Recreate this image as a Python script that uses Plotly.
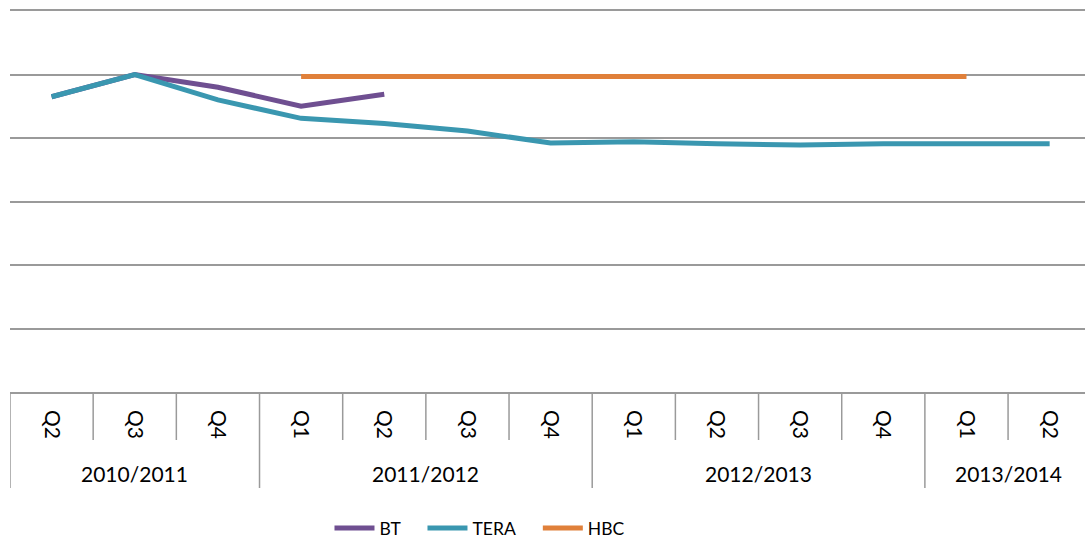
import plotly.graph_objects as go

# Quarter labels and fiscal-year groups along the x axis
quarters = ["Q2", "Q3", "Q4", "Q1", "Q2", "Q3", "Q4", "Q1", "Q2", "Q3", "Q4", "Q1", "Q2"]
years = ["2010/2011", "2011/2012", "2012/2013", "2013/2014"]
year_sizes = [3, 4, 4, 2]

# Series values (one per quarter, None where the series has no data)
bt = [4.65, 5.0, 4.80, 4.50, 4.69, None, None, None, None, None, None, None, None]
tera = [4.65, 5.0, 4.60, 4.31, 4.23, 4.11, 3.92, 3.94, 3.91, 3.89, 3.91, 3.91, 3.91]
hbc = [None, None, None, 4.97, 4.97, 4.97, 4.97, 4.97, 4.97, 4.97, 4.97, 4.97, None]

x = list(range(len(quarters)))
FONT = "Lato"
GRID = "#9a9a9a"

series = [("BT", bt, "#6f4f91"), ("TERA", tera, "#3a97b0"), ("HBC", hbc, "#e0803a")]
legend_ids = ["legend", "legend2", "legend3"]
legend_x = [0.2972, 0.3837, 0.491]

fig = go.Figure()
for (name, vals, color), lg in zip(series, legend_ids):
    fig.add_trace(go.Scatter(
        x=x, y=vals, name=name, mode="lines",
        line=dict(color=color, width=5),
        connectgaps=False, legend=lg,
    ))

# Category divider lines under the axis
shapes = []
bounds = [-0.5]
for n in year_sizes:
    bounds.append(bounds[-1] + n)
year_bounds = set(bounds[:-1])
for i in range(len(quarters)):
    b = i - 0.5
    y1 = -0.252 if b in year_bounds else -0.126
    shapes.append(dict(type="line", xref="x", yref="paper", x0=b, x1=b, y0=0, y1=y1,
                       line=dict(color=GRID, width=1.5)))

# Fiscal-year labels centred under their quarters
annotations = []
start = 0
for label, n in zip(years, year_sizes):
    centre = start + (n - 1) / 2
    annotations.append(dict(x=centre, y=-0.213, xref="x", yref="paper", text=label,
                            showarrow=False, font=dict(family=FONT, size=21, color="#000"),
                            xanchor="center", yanchor="middle"))
    start += n

legend_style = dict(orientation="h", y=-0.357, xanchor="left", yanchor="middle",
                    font=dict(family=FONT, size=17.5, color="#000"), itemwidth=40,
                    bgcolor="rgba(0,0,0,0)")

fig.update_layout(
    width=1085, height=538,
    margin=dict(l=10, r=0, t=11, b=146, autoexpand=False),
    paper_bgcolor="white", plot_bgcolor="white",
    shapes=shapes, annotations=annotations,
    showlegend=True,
    legend=dict(x=legend_x[0], **legend_style),
    legend2=dict(x=legend_x[1], **legend_style),
    legend3=dict(x=legend_x[2], **legend_style),
    xaxis=dict(range=[-0.5, 12.425], tickvals=x, ticktext=quarters,
               tickangle=90, showgrid=False, zeroline=False, ticks="",
               showline=True, mirror=True, linecolor=GRID, linewidth=1.5,
               ticklabelstandoff=12,
               tickfont=dict(family=FONT, size=21, color="#000")),
    yaxis=dict(range=[0, 6], tickvals=[0, 1, 2, 3, 4, 5, 6], showticklabels=False,
               showgrid=True, gridcolor=GRID, gridwidth=1.5, zeroline=False,
               showline=False, ticks=""),
)

fig.write_html("out.html")
